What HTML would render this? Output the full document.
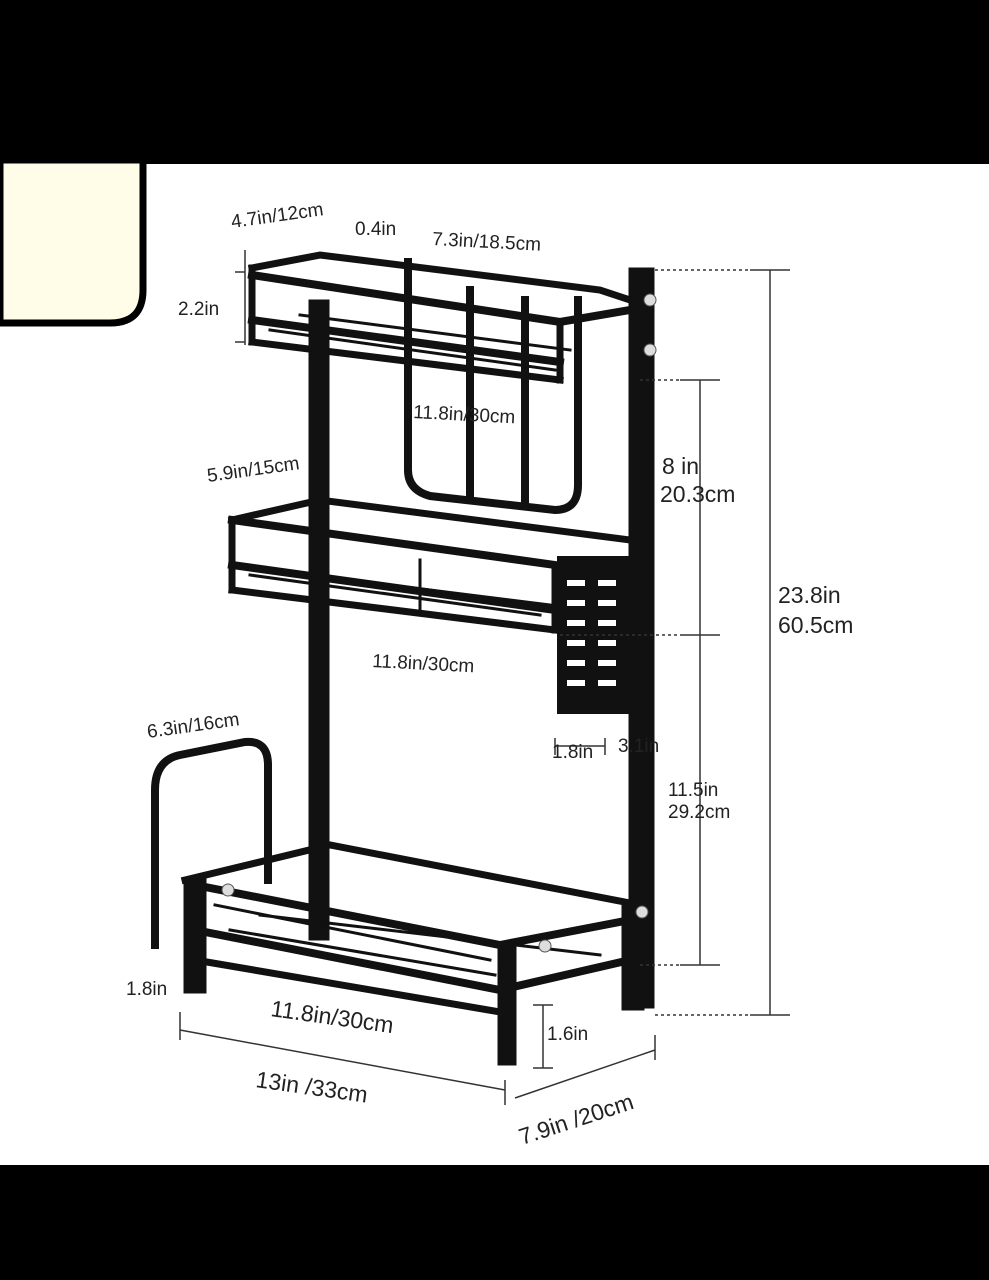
<!DOCTYPE html>
<html><head><meta charset="utf-8"><style>
html,body{margin:0;padding:0;background:#fff;}
svg{display:block;}
text{font-family:"Liberation Sans",sans-serif;fill:#222;}
</style></head><body>
<svg width="989" height="1280" viewBox="0 0 989 1280" xmlns="http://www.w3.org/2000/svg">
<rect x="0" y="0" width="989" height="1280" fill="#fff"/>
<rect x="0" y="0" width="989" height="164" fill="#000"/>
<rect x="0" y="1165" width="989" height="115" fill="#000"/>
<path d="M0 160 H143 V290 Q143 323 110 323 H0 Z" fill="#fffde8" stroke="#000" stroke-width="7"/>

<g fill="none" stroke="#111" stroke-linecap="square">
<!-- right post -->
<rect x="629" y="268" width="25" height="740" fill="#111"/>
<!-- left post -->
<rect x="309" y="300" width="20" height="640" fill="#111"/>
<!-- top shelf -->
<path d="M252 268 L320 255 L600 290 L630 300" stroke-width="7"/>
<path d="M252 275 L560 322 L630 310" stroke-width="8"/>
<path d="M252 320 L560 362" stroke-width="8"/>
<path d="M252 342 L560 380" stroke-width="7"/>
<path d="M252 268 V342 M560 322 V380" stroke-width="7"/>
<path d="M270 330 L555 370 M300 315 L570 350" stroke-width="3"/>
<!-- knife hanger -->
<path d="M408 262 V470 Q408 490 430 496 L555 510 Q578 510 578 485 V300" stroke-width="8"/>
<path d="M470 290 V500 M525 300 V500" stroke-width="8"/>
<!-- middle shelf -->
<path d="M232 520 L320 500 L630 540" stroke-width="7"/>
<path d="M232 520 L555 565" stroke-width="8"/>
<path d="M232 565 L555 610" stroke-width="8"/>
<path d="M232 590 L555 630" stroke-width="7"/>
<path d="M232 520 V590 M555 565 V630" stroke-width="7"/>
<path d="M250 575 L540 615 M270 570 L550 605 M420 560 L420 615" stroke-width="3"/>
<!-- knife holder -->
<rect x="557" y="556" width="73" height="158" fill="#111" stroke="none"/>
<!-- cutting board frame -->
<path d="M155 945 V790 Q155 760 180 755 L245 742 Q268 740 268 765 V880" stroke-width="8"/>
<!-- bottom shelf -->
<path d="M185 880 L330 845 L640 905" stroke-width="7"/>
<path d="M195 885 L500 945 L630 920" stroke-width="8"/>
<path d="M195 930 L500 990 L630 960" stroke-width="8"/>
<path d="M195 960 L500 1012" stroke-width="7"/>
<path d="M215 905 L490 960 M230 930 L495 975 M260 915 L600 955" stroke-width="3"/>
<rect x="184" y="878" width="22" height="115" fill="#111"/>
<rect x="498" y="945" width="18" height="120" fill="#111"/>
<rect x="622" y="900" width="22" height="110" fill="#111"/>
</g>
<g fill="#fff">
<rect x="567" y="580" width="18" height="6"/><rect x="567" y="600" width="18" height="6"/><rect x="567" y="620" width="18" height="6"/><rect x="567" y="640" width="18" height="6"/><rect x="567" y="660" width="18" height="6"/><rect x="567" y="680" width="18" height="6"/>
<rect x="598" y="580" width="18" height="6"/><rect x="598" y="600" width="18" height="6"/><rect x="598" y="620" width="18" height="6"/><rect x="598" y="640" width="18" height="6"/><rect x="598" y="660" width="18" height="6"/><rect x="598" y="680" width="18" height="6"/>
</g>
<g fill="#ddd" stroke="#555" stroke-width="1">
<circle cx="650" cy="300" r="6"/><circle cx="650" cy="350" r="6"/><circle cx="642" cy="912" r="6"/><circle cx="545" cy="946" r="6"/><circle cx="228" cy="890" r="6"/>
</g>

<!-- dimension lines -->
<g stroke="#333" stroke-width="1.5" fill="none">
<path d="M770 270 V1015 M750 270 H790 M750 1015 H790"/>
<path d="M700 380 V965 M680 380 H720 M680 635 H720 M680 965 H720"/>
<path d="M655 270 H750 M655 1015 H750 M640 380 H680 M640 965 H680 M560 635 H680" stroke-dasharray="3,3"/>
<path d="M245 250 V345 M235 272 H245 M235 342 H245"/>
<path d="M180 1012 V1040 M180 1030 L505 1090 M505 1080 V1105 M515 1098 L655 1050 M655 1035 V1060"/>
<path d="M543 1005 V1068 M533 1005 H553 M533 1068 H553"/>
<path d="M555 738 V755 M555 746 H605 M605 738 V755"/>
</g>

<g font-size="19">
<text x="232" y="228" transform="rotate(-8 232 228)">4.7in/12cm</text>
<text x="355" y="235">0.4in</text>
<text x="432" y="245" transform="rotate(3 432 245)">7.3in/18.5cm</text>
<text x="178" y="315">2.2in</text>
<text x="413" y="418" transform="rotate(3 413 418)">11.8in/30cm</text>
<text x="208" y="482" transform="rotate(-8 208 482)">5.9in/15cm</text>
<text x="372" y="667" transform="rotate(3 372 667)">11.8in/30cm</text>
<text x="148" y="738" transform="rotate(-8 148 738)">6.3in/16cm</text>
<text x="552" y="758">1.8in</text>
<text x="618" y="752">3.1in</text>
<text x="126" y="995">1.8in</text>
<text x="547" y="1040">1.6in</text>
<text x="668" y="796">11.5in</text>
<text x="668" y="818">29.2cm</text>
</g>
<g font-size="23">
<text x="662" y="474">8 in</text>
<text x="660" y="502">20.3cm</text>
<text x="778" y="603">23.8in</text>
<text x="778" y="633">60.5cm</text>
<text x="270" y="1016" transform="rotate(8 270 1016)">11.8in/30cm</text>
<text x="255" y="1087" transform="rotate(8 255 1087)">13in /33cm</text>
<text x="522" y="1145" transform="rotate(-18 522 1145)">7.9in /20cm</text>
</g>
</svg>
</body></html>
